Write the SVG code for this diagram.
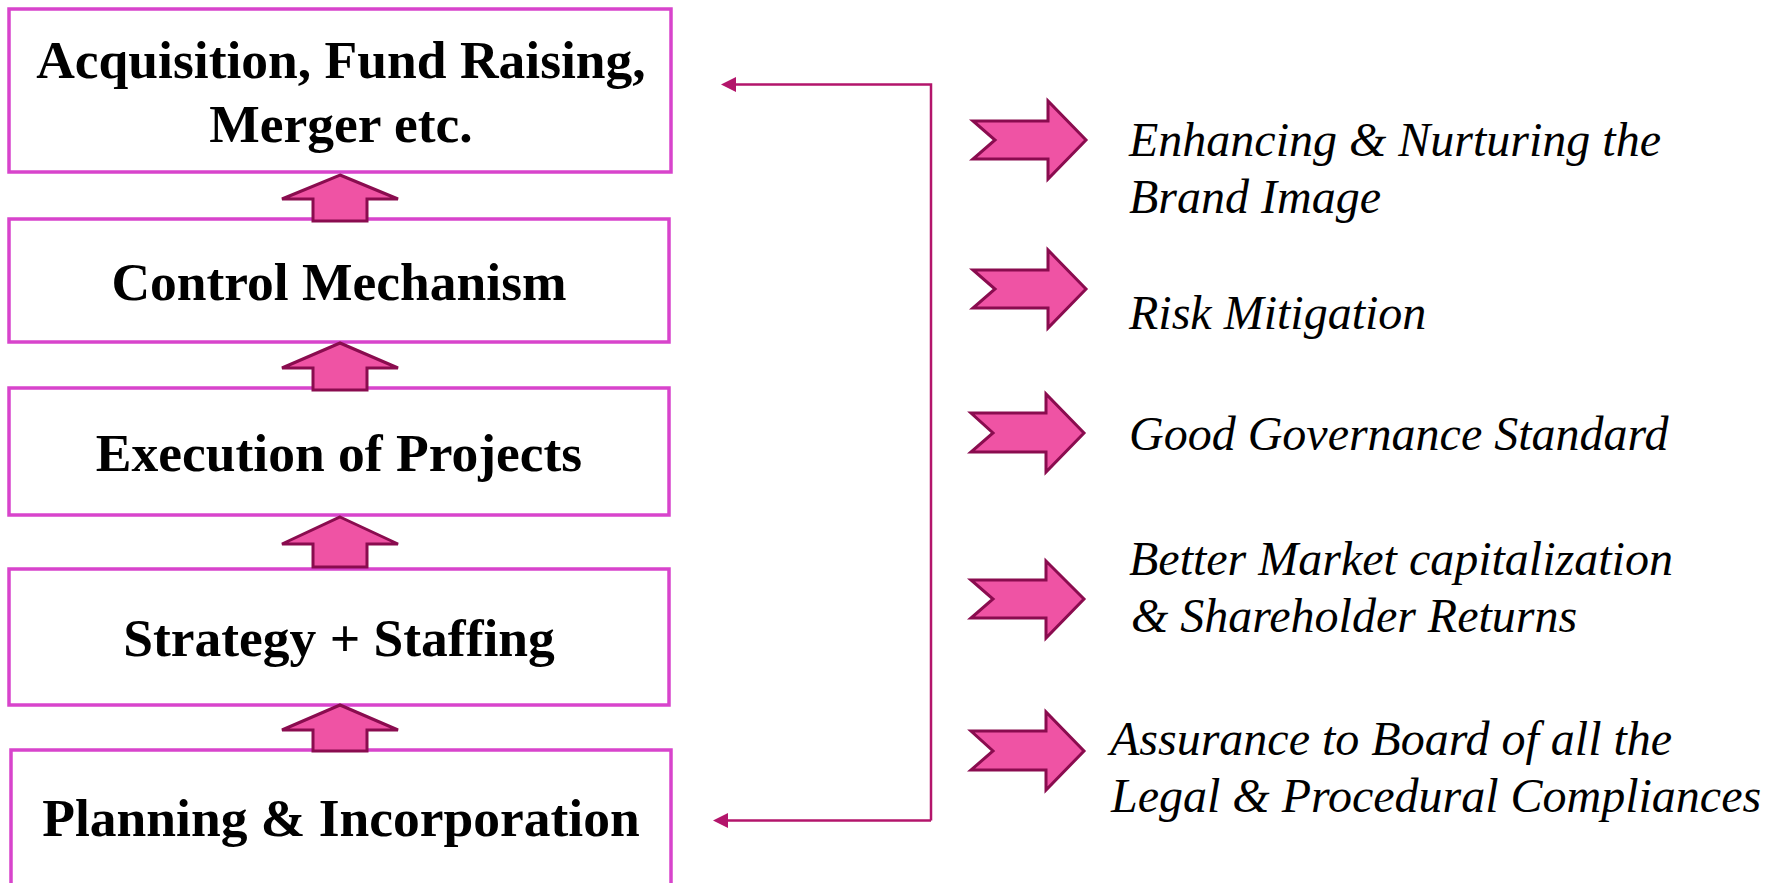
<svg xmlns="http://www.w3.org/2000/svg" width="1768" height="883" viewBox="0 0 1768 883">
<style>
.box{fill:#fff;stroke:#D844CC;stroke-width:3.5}
.up{fill:#EF53A4;stroke:#8A0C4F;stroke-width:3;stroke-linejoin:miter}
.rt{fill:#EF53A4;stroke:#8A0C4F;stroke-width:3;stroke-linejoin:miter}
.lbl{font-family:"Liberation Serif","Times New Roman",serif;font-weight:bold;font-size:53.5px;fill:#000;text-anchor:middle}
.it{font-family:"Liberation Serif","Times New Roman",serif;font-style:italic;font-size:48px;fill:#000}
.conn{fill:none;stroke:#B3156B;stroke-width:2.5}
</style>
<defs>
<marker id="ah" viewBox="0 0 10 10" refX="0" refY="5" markerWidth="6" markerHeight="6.4" markerUnits="strokeWidth" orient="auto-start-reverse">
<path d="M0,0 L10,5 L0,10 Z" fill="#B3156B"/>
</marker>
</defs>
<rect width="1768" height="883" fill="#fff"/>
<g id="node-acquisition">
<rect class="box" x="9" y="9" width="662" height="163"/>
<text class="lbl" x="341" y="78">Acquisition, Fund Raising,</text>
<text class="lbl" x="341" y="142">Merger etc.</text>
</g>
<g id="node-control">
<rect class="box" x="9" y="219" width="660" height="123"/>
<text class="lbl" x="339" y="300">Control Mechanism</text>
</g>
<g id="node-execution">
<rect class="box" x="9" y="388" width="660" height="127"/>
<text class="lbl" x="339" y="471">Execution of Projects</text>
</g>
<g id="node-strategy">
<rect class="box" x="9" y="569" width="660" height="136"/>
<text class="lbl" x="339" y="656">Strategy + Staffing</text>
</g>
<g id="node-planning">
<rect class="box" x="11" y="750" width="660" height="150"/>
<text class="lbl" x="341" y="836">Planning &amp; Incorporation</text>
</g>
<g id="up-arrows">
<path class="up" d="M340,175 L398,199 L367,199 L367,221 L313,221 L313,199 L282,199 Z"/>
<path class="up" d="M340,343 L398,368 L367,368 L367,390 L313,390 L313,368 L282,368 Z"/>
<path class="up" d="M340,517 L398,544 L367,544 L367,567 L313,567 L313,544 L282,544 Z"/>
<path class="up" d="M340,705 L398,730 L367,730 L367,751 L313,751 L313,730 L282,730 Z"/>
</g>
<g id="connectors">
<path class="conn" d="M931,820.5 L931,84.5 L736,84.5" marker-end="url(#ah)"/>
<path class="conn" d="M931,820.5 L728,820.5" marker-end="url(#ah)"/>
</g>
<g id="benefit-arrows">
<path class="rt" d="M973,121 L1048,121 L1048,101 L1086,140 L1048,179 L1048,159 L973,159 L995,140 Z"/>
<path class="rt" d="M973,270 L1048,270 L1048,250 L1086,289 L1048,328 L1048,308 L973,308 L995,289 Z"/>
<path class="rt" d="M971,413 L1046,413 L1046,394 L1084,433 L1046,472 L1046,452 L971,452 L993,433 Z"/>
<path class="rt" d="M971,580 L1046,580 L1046,561 L1084,599 L1046,638 L1046,618 L971,618 L993,599 Z"/>
<path class="rt" d="M971,731 L1046,731 L1046,712 L1084,751 L1046,790 L1046,770 L971,770 L993,751 Z"/>
</g>
<g id="benefit-texts">
<text class="it" x="1129" y="156">Enhancing &amp; Nurturing the</text>
<text class="it" x="1129" y="213">Brand Image</text>
<text class="it" x="1129" y="329">Risk Mitigation</text>
<text class="it" x="1129" y="450">Good Governance Standard</text>
<text class="it" x="1129" y="575">Better Market capitalization</text>
<text class="it" x="1131" y="632">&amp; Shareholder Returns</text>
<text class="it" x="1110" y="755">Assurance to Board of all the</text>
<text class="it" x="1111" y="812">Legal &amp; Procedural Compliances</text>
</g>
</svg>
